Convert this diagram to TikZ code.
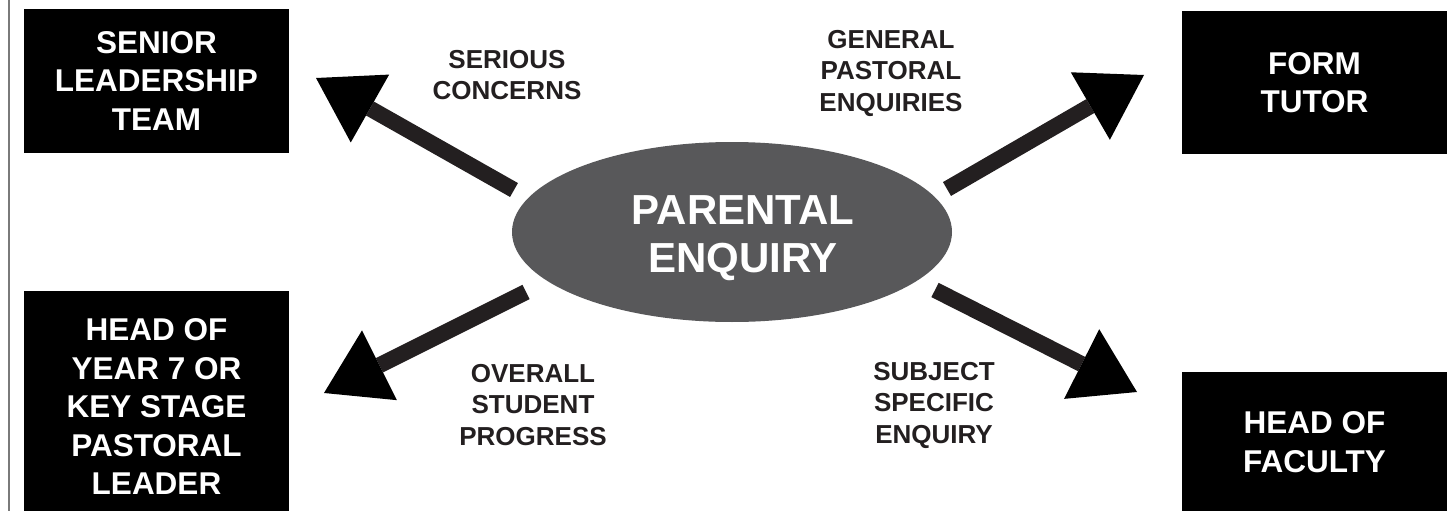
\documentclass[tikz,border=0pt]{standalone}
\usepackage{fontspec}
\setmainfont{Liberation Sans}
\usetikzlibrary{shapes.geometric,arrows.meta}
\definecolor{ellgray}{HTML}{58585A}
\definecolor{shaftcol}{HTML}{231F20}
\definecolor{bordercol}{HTML}{7A7A7A}
\begin{document}
\begin{tikzpicture}[x=1pt,y=-1pt,
  box/.style={fill=black, text=white, font=\fontsize{31.5}{38.5}\selectfont\bfseries, align=center, inner sep=0pt, minimum width=265pt},
  lbl/.style={text=shaftcol, font=\fontsize{26}{31.5}\selectfont\bfseries, align=center, inner sep=0pt},
  bigarrow/.style={draw=shaftcol, line width=16pt, -{Triangle[length=62pt,width=78pt,line width=0pt,color=black]}}
]
\useasboundingbox (0,0) rectangle (1452,511);
\draw[bordercol, line width=2pt] (8.5,0) -- (8.5,511);

\node[box, minimum height=144pt] (slt) at (156.5,81) {SENIOR\\LEADERSHIP\\TEAM};
\node[box, minimum height=143pt] (ft) at (1314.5,82.5) {FORM\\TUTOR};
\node[box, minimum height=231pt] (hoy) at (156.5,406.5) {HEAD OF\\YEAR 7 OR\\KEY STAGE\\PASTORAL\\LEADER};
\node[box, minimum height=140pt] (hof) at (1314.5,442) {HEAD OF\\FACULTY};

\node[ellipse, fill=ellgray, minimum width=440pt, minimum height=180pt, inner sep=0pt] (pe) at (732,232) {};
\node[text=white, font=\fontsize{42}{48}\selectfont\bfseries, align=center, inner sep=0pt]
  (pet) at ([xshift=11pt,yshift=-6pt]pe.center) {PARENTAL\\ENQUIRY};

\node[lbl] (l1) at (507,75) {SERIOUS\\CONCERNS};
\node[lbl] (l2) at (891,73) {GENERAL\\PASTORAL\\ENQUIRIES};
\node[lbl] (l3) at (533,405) {OVERALL\\STUDENT\\PROGRESS};
\node[lbl] (l4) at (934,405) {SUBJECT\\SPECIFIC\\ENQUIRY};

\coordinate (ulS) at (514,190);
\coordinate (ulT) at (316,78);
\coordinate (llS) at (526,292);
\coordinate (llT) at (324,393);
\coordinate (urS) at (947,189);
\coordinate (urT) at (1144,75);
\coordinate (lrS) at (935,290);
\coordinate (lrT) at (1137,392);

\draw[bigarrow] (ulS) -- (ulT);
\draw[bigarrow] (llS) -- (llT);
\draw[bigarrow] (urS) -- (urT);
\draw[bigarrow] (lrS) -- (lrT);
\end{tikzpicture}
\end{document}
